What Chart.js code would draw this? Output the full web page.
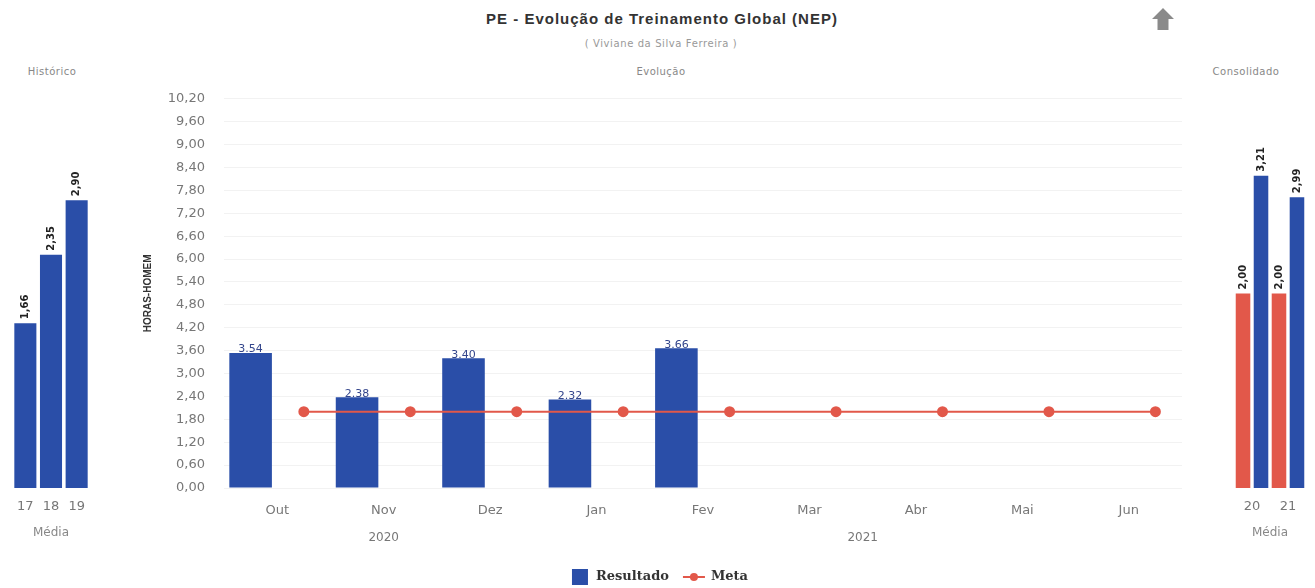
<!DOCTYPE html>
<html>
<head>
<meta charset="utf-8">
<script src="https://cdn.jsdelivr.net/npm/chart.js@4.4.0/dist/chart.umd.min.js"></script>
<style>
    body { margin: 0; background: #fff; width: 1315px; height: 588px; overflow: hidden; position: relative; font-family: "DejaVu Sans", sans-serif; }
    .box { position: absolute; }
    .lbl { position: absolute; color: #888; font-size: 10px; letter-spacing: 0.5px; white-space: nowrap; transform: translateX(-50%); }
    #titulo { position: absolute; left: 662px; top: 10px; transform: translateX(-50%); font: bold 15px "Liberation Sans", Arial, sans-serif; letter-spacing: 1px; color: #333; white-space: nowrap; }
    #sub { top: 38px; left: 661px; font-size: 10px; letter-spacing: 0.6px; color: #999; }
    #seta { position: absolute; left: 1152px; top: 8px; width: 22px; height: 22px; background: #8a8a8a;
        clip-path: polygon(50% 0, 100% 50%, 75% 50%, 75% 100%, 25% 100%, 25% 50%, 0 50%); }
</style>
</head>
<body>
<div id="titulo">PE - Evolução de Treinamento Global (NEP)</div>
<div class="lbl" id="sub">( Viviane da Silva Ferreira )</div>
<div id="seta"></div>
<div class="lbl" style="left:52px;top:66px">Histórico</div>
<div class="lbl" style="left:661px;top:66px">Evolução</div>
<div class="lbl" style="left:1246px;top:66px">Consolidado</div>

<div class="box" style="left:7px;top:86px;width:88px;height:462px"><canvas id="historico"></canvas></div>
<div class="box" style="left:130px;top:72px;width:1060px;height:516px"><canvas id="evolucao"></canvas></div>
<div class="box" style="left:1233px;top:86px;width:74px;height:462px"><canvas id="consolidado"></canvas></div>

<script>
// dados
var histLabels = ['17', '18', '19'];
var histValues = [1.66, 2.35, 2.90];

var months = ['Out', 'Nov', 'Dez', 'Jan', 'Fev', 'Mar', 'Abr', 'Mai', 'Jun'];
var monthYears = ['2020', '2020', '2020', '2021', '2021', '2021', '2021', '2021', '2021'];
var resultado = [3.54, 2.38, 3.40, 2.32, 3.66, null, null, null, null];
var meta = [2.00, 2.00, 2.00, 2.00, 2.00, 2.00, 2.00, 2.00, 2.00];

var consLabels = ['20', '21'];
var consMeta = [2.00, 2.00];
var consResultado = [3.21, 2.99];

var AZUL = '#2a4ea8';
var VERMELHO = '#e2584a';

Chart.defaults.font.family = '"DejaVu Sans", sans-serif';
Chart.defaults.color = '#777';

// each month gets two slots: bar on the left, meta point on the right
var slots = [], resultadoSlots = [], metaSlots = [];
months.forEach(function (m, i) {
    slots.push(m + 'R', m + 'M');
    resultadoSlots.push(resultado[i], null);
    metaSlots.push(null, meta[i]);
});

function fmt(v, sep) {
    return v.toFixed(2).replace('.', sep);
}

var valueLabels = {
    id: 'valueLabels',
    afterDatasetsDraw: function (chart, args, opts) {
        var ctx = chart.ctx;
        chart.data.datasets.forEach(function (ds, di) {
            if (ds.type === 'line') return;
            var m = chart.getDatasetMeta(di);
            m.data.forEach(function (bar, i) {
                var v = ds.data[i];
                if (v == null) return;
                ctx.save();
                ctx.fillStyle = opts.color;
                ctx.font = opts.font;
                if (opts.rotate) {
                    ctx.translate(bar.x, bar.y - 4);
                    ctx.rotate(-Math.PI / 2);
                    ctx.textAlign = 'left';
                    ctx.textBaseline = 'middle';
                    ctx.fillText(fmt(v, opts.sep), 0, 0);
                } else {
                    ctx.textAlign = 'center';
                    ctx.textBaseline = 'bottom';
                    ctx.fillText(fmt(v, opts.sep), bar.x, bar.y + 2);
                }
                ctx.restore();
            });
        });
    }
};

var yearLabels = {
    id: 'yearLabels',
    afterDraw: function (chart) {
        var sx = chart.scales.x, ctx = chart.ctx;
        var groups = [];
        monthYears.forEach(function (y, i) {
            var last = groups[groups.length - 1];
            if (last && last.year === y) last.to = i;
            else groups.push({ year: y, from: i, to: i });
        });
        ctx.save();
        ctx.fillStyle = '#777';
        ctx.font = '12px "DejaVu Sans"';
        ctx.textAlign = 'center';
        ctx.textBaseline = 'middle';
        groups.forEach(function (g) {
            var x = (sx.getPixelForValue(g.from) + sx.getPixelForValue(g.to)) / 2;
            ctx.fillText(g.year, x, sx.top + 50);
        });
        ctx.restore();
    }
};

var legendaBaixo = {
    id: 'legendaBaixo',
    afterDraw: function (chart) {
        var ctx = chart.ctx;
        var y = chart.height - 11;
        ctx.save();
        ctx.font = 'bold 13px "DejaVu Serif"';
        ctx.textBaseline = 'middle';
        var w1 = ctx.measureText('Resultado').width;
        var w2 = ctx.measureText('Meta').width;
        var total = 16 + 8 + w1 + 14 + 22 + 6 + w2;
        var x = chart.width / 2 - total / 2;
        ctx.fillStyle = AZUL;
        ctx.fillRect(x, y - 8, 16, 16);
        x += 24;
        ctx.fillStyle = '#333';
        ctx.fillText('Resultado', x, y);
        x += w1 + 14;
        ctx.strokeStyle = VERMELHO;
        ctx.lineWidth = 2;
        ctx.beginPath();
        ctx.moveTo(x, y);
        ctx.lineTo(x + 22, y);
        ctx.stroke();
        ctx.fillStyle = VERMELHO;
        ctx.beginPath();
        ctx.arc(x + 11, y, 4, 0, Math.PI * 2);
        ctx.fill();
        x += 28;
        ctx.fillStyle = '#333';
        ctx.fillText('Meta', x, y);
        ctx.restore();
    }
};

function sideX(labels) {
    return {
        type: 'category',
        labels: labels,
        offset: true,
        grid: { display: false, drawTicks: false },
        border: { display: false },
        ticks: { padding: 11, color: '#777', font: { size: 13 } },
        title: { display: true, text: 'Média', color: '#888', font: { size: 12 }, padding: { top: 0, bottom: 8 } },
        afterFit: function (s) { s.height = 60; }
    };
}

new Chart(document.getElementById('historico'), {
    type: 'bar',
    data: {
        labels: histLabels,
        datasets: [{
            label: 'Histórico',
            data: histValues,
            backgroundColor: AZUL,
            barPercentage: 0.86,
            categoryPercentage: 1
        }]
    },
    options: {
        animation: false,
        responsive: true,
        maintainAspectRatio: false,
        layout: { padding: { top: 10 } },
        plugins: {
            legend: { display: false },
            tooltip: { enabled: false },
            valueLabels: { rotate: true, sep: ',', color: '#222', font: 'bold 10px "DejaVu Sans"' }
        },
        scales: {
            x: sideX(histLabels),
            y: { display: false, min: 0, max: 3.95 }
        }
    },
    plugins: [valueLabels]
});

new Chart(document.getElementById('evolucao'), {
    type: 'bar',
    data: {
        labels: slots,
        datasets: [{
            type: 'line',
            label: 'Meta',
            data: metaSlots,
            xAxisID: 'xs',
            borderColor: VERMELHO,
            backgroundColor: VERMELHO,
            borderWidth: 2,
            pointRadius: 4.5,
            pointHoverRadius: 4.5,
            spanGaps: true,
            order: 0
        }, {
            label: 'Resultado',
            data: resultadoSlots,
            xAxisID: 'xs',
            backgroundColor: AZUL,
            barPercentage: 0.8,
            categoryPercentage: 1,
            order: 1
        }]
    },
    options: {
        animation: false,
        responsive: true,
        maintainAspectRatio: false,
        layout: { padding: { top: 0, right: 8, bottom: 40 } },
        plugins: {
            legend: { display: false },
            tooltip: { enabled: false },
            valueLabels: { rotate: false, sep: '.', color: '#34468c', font: '11px "DejaVu Sans"' }
        },
        scales: {
            xs: { type: 'category', labels: slots, offset: true, display: false },
            x: {
                type: 'category',
                labels: months,
                offset: true,
                grid: { display: false, drawTicks: false },
                border: { display: false },
                ticks: { padding: 15, color: '#777', font: { size: 13 }, maxRotation: 0 },
                afterFit: function (s) { s.height = 60; }
            },
            y: {
                min: 0,
                max: 10.2,
                ticks: {
                    stepSize: 0.6,
                    padding: 19,
                    color: '#777',
                    font: { size: 13 },
                    callback: function (v) { return fmt(v, ','); }
                },
                grid: { color: '#f2f2f2', drawTicks: false },
                border: { display: false },
                title: {
                    display: true,
                    text: 'HORAS-HOMEM',
                    color: '#333',
                    font: { size: 10, weight: 'bold', family: '"Liberation Sans"' },
                    padding: { top: 12, bottom: 0 }
                },
                afterFit: function (s) { s.width = 94; }
            }
        }
    },
    plugins: [valueLabels, yearLabels, legendaBaixo]
});

new Chart(document.getElementById('consolidado'), {
    type: 'bar',
    data: {
        labels: consLabels,
        datasets: [{
            label: 'Meta',
            data: consMeta,
            backgroundColor: VERMELHO,
            barPercentage: 0.81,
            categoryPercentage: 1
        }, {
            label: 'Resultado',
            data: consResultado,
            backgroundColor: AZUL,
            barPercentage: 0.81,
            categoryPercentage: 1
        }]
    },
    options: {
        animation: false,
        responsive: true,
        maintainAspectRatio: false,
        layout: { padding: { top: 10 } },
        plugins: {
            legend: { display: false },
            tooltip: { enabled: false },
            valueLabels: { rotate: true, sep: ',', color: '#222', font: 'bold 10px "DejaVu Sans"' }
        },
        scales: {
            x: sideX(consLabels),
            y: { display: false, min: 0, max: 4.03 }
        }
    },
    plugins: [valueLabels]
});
</script>
</body>
</html>
